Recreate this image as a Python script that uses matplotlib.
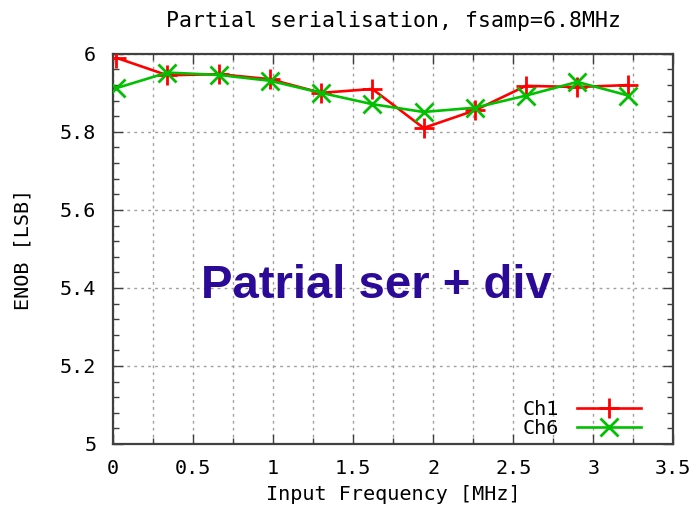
#!/usr/bin/env python3

import matplotlib.pyplot as plt
from matplotlib.ticker import MultipleLocator

freq = [0.02, 0.34, 0.66, 0.98, 1.30, 1.62, 1.94, 2.26, 2.58, 2.90, 3.22]
ch1 = [5.99, 5.945, 5.948, 5.935, 5.90, 5.91, 5.81, 5.855, 5.918, 5.915, 5.92]
ch6 = [5.912, 5.952, 5.946, 5.931, 5.90, 5.871, 5.851, 5.862, 5.893, 5.928, 5.893]

x_ticks = [0, 0.5, 1, 1.5, 2, 2.5, 3, 3.5]
x_tick_labels = ["0", "0.5", "1", "1.5", "2", "2.5", "3", "3.5"]
y_ticks = [5, 5.2, 5.4, 5.6, 5.8, 6]
y_tick_labels = ["5", "5.2", "5.4", "5.6", "5.8", "6"]


def main():
    mono = "DejaVu Sans Mono"
    dpi = 100
    fig = plt.figure(figsize=(696 / dpi, 508 / dpi), dpi=dpi)
    ax = fig.add_axes([0.1624, 0.126, 0.805, 0.768])

    ax.plot(freq, ch1, color="#ff0000", lw=1.9, marker="+", ms=15, mew=2.0,
            label="Ch1", zorder=3)
    ax.plot(freq, ch6, color="#00c000", lw=1.9, marker="x", ms=13, mew=2.0,
            label="Ch6", zorder=4)

    ax.set_xlim(0, 3.5)
    ax.set_ylim(5, 6)
    ax.set_xticks(x_ticks)
    ax.set_xticklabels(x_tick_labels, family=mono, fontsize=14.5)
    ax.set_yticks(y_ticks)
    ax.set_yticklabels(y_tick_labels, family=mono, fontsize=14.5)
    ax.xaxis.set_minor_locator(MultipleLocator(0.25))
    ax.yaxis.set_minor_locator(MultipleLocator(0.04))
    ax.tick_params(which="both", direction="in", top=True, right=True,
                   width=1.0, color="#404040")
    ax.tick_params(which="major", length=7)
    ax.tick_params(axis="x", which="major", pad=11)
    ax.tick_params(axis="y", which="major", pad=12)
    ax.tick_params(which="minor", length=4)

    ax.grid(True, which="major", axis="y", color="#a0a0a0",
            linestyle=(0, (2, 3)), lw=1.0)
    ax.grid(True, which="both", axis="x", color="#a0a0a0",
            linestyle=(0, (2, 3)), lw=1.0)
    for s in ax.spines.values():
        s.set_color("#404040")
        s.set_linewidth(1.6)

    ax.set_title("Partial serialisation, fsamp=6.8MHz", family=mono,
                 fontsize=15.5, pad=19)
    ax.set_xlabel("Input Frequency [MHz]", family=mono, fontsize=14.5,
                  labelpad=5)
    ax.set_ylabel("ENOB [LSB]", family=mono, fontsize=14.5, labelpad=20)

    ax.text(0.47, 0.405, "Patrial ser + div", transform=ax.transAxes,
            ha="center", va="center", family="Liberation Sans",
            fontweight="bold", fontsize=34, color="#2a0a96")

    ax.legend(loc="lower right", frameon=False, markerfirst=False,
              handlelength=3.2, numpoints=1,
              prop={"family": mono, "size": 14.5},
              bbox_to_anchor=(0.975, -0.03), labelspacing=0.0,
              handletextpad=0.9)

    plt.savefig("out.png", dpi=dpi)


if __name__ == "__main__":
    main()
